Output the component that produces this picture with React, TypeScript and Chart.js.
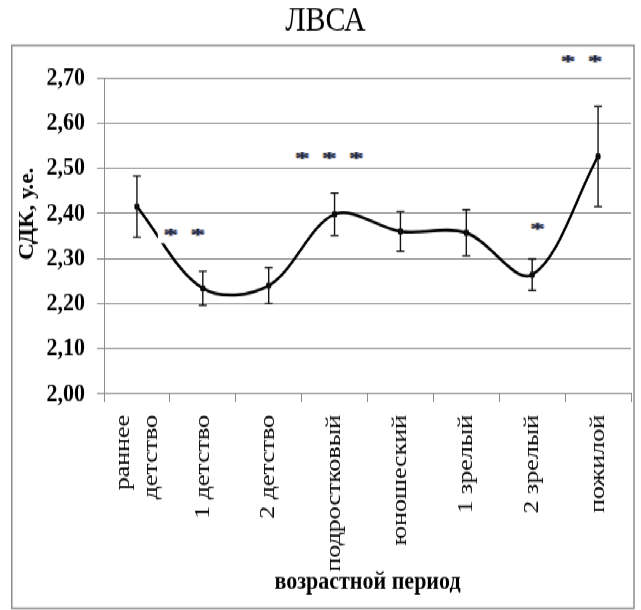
import { useEffect, useRef } from 'react';
import { Chart, registerables } from 'chart.js';

Chart.register(...registerables);

// Age periods (x categories); multi-line entries are stacked side by side
const periods: string[][] = [
  ['раннее', 'детство'],
  ['1 детство'],
  ['2 детство'],
  ['подростковый'],
  ['юношеский'],
  ['1 зрелый'],
  ['2 зрелый'],
  ['пожилой'],
];

// Mean СДК per period and its error (half-length of the bar)
const sdkMeans = [2.415, 2.234, 2.24, 2.398, 2.36, 2.357, 2.264, 2.526];
const sdkErrors = [0.068, 0.038, 0.04, 0.047, 0.044, 0.051, 0.035, 0.111];

// Y axis ticks
const yTickValues = [2.0, 2.1, 2.2, 2.3, 2.4, 2.5, 2.6, 2.7];

// Significance marks: centre (category units), level (y value), number of asterisks
const markAt = [0.72, 2.92, 6.08, 6.75];
const markValue = [2.356, 2.527, 2.37, 2.74];
const markCount = [2, 3, 1, 2];

const TITLE = 'ЛВСА';
const Y_TITLE = 'СДК, у.е.';
const X_TITLE = 'возрастной период';

const SERIF = '"Liberation Serif", "Times New Roman", serif';
const GRID = '#8c8c8c';

// the figure is drawn on a 641x517 canvas and stretched vertically to 610px
const CANVAS_H = 517;
const STRETCH = 610 / CANVAS_H;

const framePlugin = {
  id: 'frame',
  afterDraw(chart: any) {
    const { ctx } = chart;
    ctx.save();
    ctx.strokeStyle = GRID;
    ctx.lineWidth = 1.5;
    ctx.strokeRect(11.75, 38.5, 622.25, 477.1);
    ctx.restore();
  },
};

const errorBarPlugin = {
  id: 'errorBars',
  afterDatasetsDraw(chart: any) {
    const { ctx } = chart;
    const x = chart.scales.x;
    const y = chart.scales.y;
    ctx.save();
    ctx.strokeStyle = '#141414';
    ctx.lineWidth = 1.4;
    sdkMeans.forEach((m, i) => {
      const px = x.getPixelForValue(i);
      const top = y.getPixelForValue(m + sdkErrors[i]);
      const bot = y.getPixelForValue(m - sdkErrors[i]);
      ctx.beginPath();
      ctx.moveTo(px, top);
      ctx.lineTo(px, bot);
      ctx.moveTo(px - 4, top);
      ctx.lineTo(px + 4, top);
      ctx.moveTo(px - 4, bot);
      ctx.lineTo(px + 4, bot);
      ctx.stroke();
    });
    ctx.restore();
  },
};

const axisTextPlugin = {
  id: 'axisText',
  afterDraw(chart: any) {
    const { ctx, chartArea } = chart;
    const x = chart.scales.x;
    ctx.save();
    ctx.fillStyle = '#000';

    // category labels, rotated, ending just under the axis
    ctx.font = `22px ${SERIF}`;
    ctx.textAlign = 'right';
    ctx.textBaseline = 'middle';
    const yEnd = chartArea.bottom + 17.8;
    periods.forEach((lines, i) => {
      const cx = x.getPixelForValue(i);
      lines.forEach((line, j) => {
        ctx.save();
        ctx.translate(cx + (j - (lines.length - 1) / 2) * 28, yEnd);
        ctx.rotate(-Math.PI / 2);
        ctx.fillText(line, 0, 0);
        ctx.restore();
      });
    });

    // y axis title
    ctx.font = `bold 20px ${SERIF}`;
    ctx.textAlign = 'center';
    ctx.save();
    ctx.translate(28, chartArea.top + 0.43 * (chartArea.bottom - chartArea.top));
    ctx.rotate(-Math.PI / 2);
    ctx.fillText(Y_TITLE, 0, 0);
    ctx.restore();

    ctx.restore();
  },
};

const marksPlugin = {
  id: 'marks',
  afterDraw(chart: any) {
    const { ctx } = chart;
    const x = chart.scales.x;
    const y = chart.scales.y;
    const pitch = 27;
    ctx.save();
    ctx.font = `bold 30px ${SERIF}`;
    ctx.textAlign = 'center';
    ctx.textBaseline = 'alphabetic';
    const m = ctx.measureText('*');
    const asc = m.actualBoundingBoxAscent;
    const desc = m.actualBoundingBoxDescent;
    const k = 6 / (asc + desc);
    const base = (asc - desc) / 2;
    markAt.forEach((pos, g) => {
      const cx = x.getPixelForValue(pos);
      const cy = y.getPixelForValue(markValue[g]);
      const n = markCount[g];
      const first = cx - ((n - 1) * pitch) / 2;
      ctx.fillStyle = '#fff';
      ctx.fillRect(first - 13, cy - 8.5, (n - 1) * pitch + 26, 17);
      for (let j = 0; j < n; j++) {
        const sx = first + j * pitch;
        ctx.save();
        ctx.translate(sx, cy);
        ctx.scale(1, k);
        ctx.fillStyle = 'rgba(235,150,50,0.8)';
        ctx.fillText('*', -1.2, base);
        ctx.fillStyle = 'rgba(60,130,230,0.8)';
        ctx.fillText('*', 1.2, base);
        ctx.fillStyle = '#23233a';
        ctx.fillText('*', 0, base);
        ctx.restore();
      }
    });
    ctx.restore();
  },
};

export default function App() {
  const canvasRef = useRef<HTMLCanvasElement>(null);

  useEffect(() => {
    if (!canvasRef.current) return;
    const chart = new Chart(canvasRef.current, {
      type: 'line',
      data: {
        labels: periods.map((p) => p.join(' ')),
        datasets: [
          {
            data: sdkMeans,
            borderColor: '#000',
            borderWidth: 2.5,
            tension: 0.333,
            fill: false,
            pointStyle: 'rect',
            pointRadius: 2.8,
            pointBackgroundColor: '#000',
            pointBorderColor: '#000',
            pointBorderWidth: 1,
          },
        ],
      },
      options: {
        responsive: true,
        maintainAspectRatio: false,
        animation: false,
        events: [],
        layout: { padding: { left: 20, right: 10, top: 0, bottom: 0 } },
        plugins: {
          legend: { display: false },
          tooltip: { enabled: false },
          title: {
            display: true,
            text: TITLE,
            color: '#000',
            font: { family: SERIF, size: 30, weight: 'normal', lineHeight: 1.2 },
            padding: { top: 0, bottom: 30.1 },
          },
        },
        scales: {
          x: {
            type: 'category',
            offset: true,
            grid: {
              offset: true,
              drawOnChartArea: false,
              drawTicks: true,
              tickLength: 7,
              color: GRID,
            },
            border: { color: GRID, width: 1 },
            ticks: { display: false },
            title: {
              display: true,
              text: X_TITLE,
              color: '#000',
              font: { family: SERIF, size: 22, weight: 'bold', lineHeight: 1.2 },
              padding: { top: 0, bottom: 10.5 },
            },
            afterFit: (s: any) => {
              s.height = 183.1;
            },
          },
          y: {
            min: 2,
            max: 2.7,
            afterBuildTicks: (s: any) => {
              s.ticks = yTickValues.map((v) => ({ value: v }));
            },
            ticks: {
              callback: (v: any) => Number(v).toFixed(2).replace('.', ','),
              color: '#000',
              font: { family: SERIF, size: 22, weight: 'bold' },
              padding: 12,
            },
            grid: { color: GRID, lineWidth: 1, tickLength: 7 },
            border: { color: GRID, width: 1 },
            afterFit: (s: any) => {
              s.width = 84;
            },
          },
        },
      },
      plugins: [errorBarPlugin, axisTextPlugin, marksPlugin, framePlugin],
    });
    return () => chart.destroy();
  }, []);

  return (
    <div
      style={{
        position: 'absolute',
        left: 0,
        top: 0,
        width: 641,
        height: CANVAS_H,
        transform: `scaleY(${STRETCH})`,
        transformOrigin: '0 0',
        background: '#fff',
      }}
    >
      <canvas ref={canvasRef} />
    </div>
  );
}
